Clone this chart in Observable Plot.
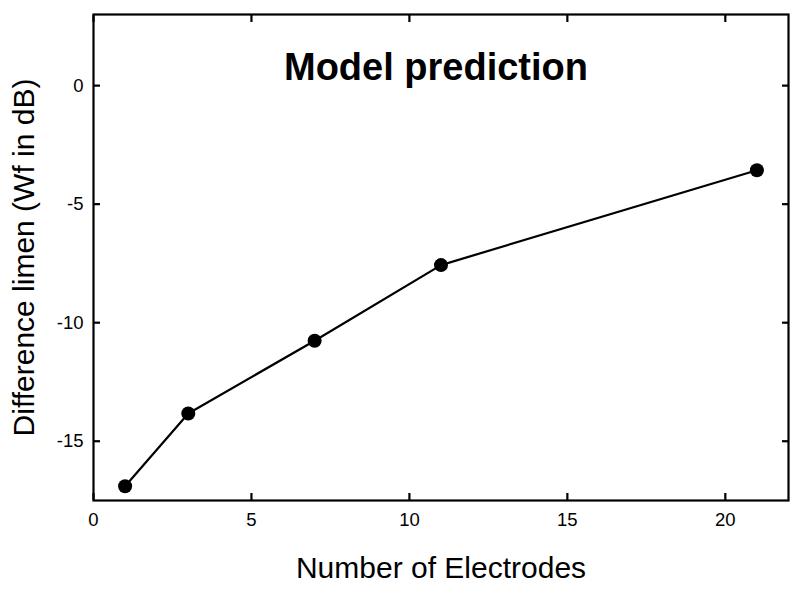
<!DOCTYPE html>
<html>
<head>
<meta charset="utf-8">
<script src="https://cdn.jsdelivr.net/npm/d3@7"></script>
<script src="https://cdn.jsdelivr.net/npm/@observablehq/plot@0.6"></script>
<style>
  html, body { margin: 0; padding: 0; background: #fff; }
</style>
</head>
<body>
<div id="chart"></div>
<script>
const electrodes = [1, 3, 7, 11, 21];
const limen = [-16.9, -13.83, -10.76, -7.57, -3.57];
const xTicks = [0, 5, 10, 15, 20];
const yTicks = [0, -5, -10, -15];
const title = "Model prediction";
const xLabel = "Number of Electrodes";
const yLabel = "Difference limen (Wf in dB)";

const data = electrodes.map((x, i) => ({x, y: limen[i]}));

const chart = Plot.plot({
  width: 800,
  height: 594,
  marginLeft: 93,
  marginRight: 12,
  marginTop: 14,
  marginBottom: 94,
  style: {fontFamily: "'Liberation Sans', Arial, sans-serif", color: "#000", background: "#fff"},
  x: {domain: [0, 22]},
  y: {domain: [-17.5, 3]},
  marks: [
    Plot.frame({stroke: "#000", strokeWidth: 2.2}),
    Plot.axisX({ticks: xTicks, anchor: "bottom", tickSize: 0, tickPadding: 12, fontSize: 18.5, label: null}),
    Plot.axisX({ticks: xTicks, anchor: "bottom", tickSize: 7, dy: -7, text: null, label: null, strokeWidth: 2.2}),
    Plot.axisX({ticks: xTicks, anchor: "top", tickSize: 7, dy: 7, text: null, label: null, strokeWidth: 2.2}),
    Plot.axisY({ticks: yTicks, anchor: "left", tickSize: 0, tickPadding: 10, fontSize: 18.5, label: null, tickFormat: d => d < 0 ? "-" + Math.abs(d) : String(d)}),
    Plot.axisY({ticks: yTicks, anchor: "left", tickSize: 7, dx: 7, text: null, label: null, strokeWidth: 2.2}),
    Plot.axisY({ticks: yTicks, anchor: "right", tickSize: 7, dx: -7, text: null, label: null, strokeWidth: 2.2}),
    Plot.line(data, {x: "x", y: "y", stroke: "#000", strokeWidth: 2.2}),
    Plot.dot(data, {x: "x", y: "y", r: 7, fill: "#000", stroke: "none"}),
    Plot.text([title], {frameAnchor: "top", dx: -5, dy: 65, lineAnchor: "bottom", fontSize: 38, fontWeight: "bold", fill: "#000"}),
    Plot.text([xLabel], {frameAnchor: "bottom", dy: 77, lineAnchor: "bottom", fontSize: 30, fill: "#000"}),
    Plot.text([yLabel], {frameAnchor: "left", dx: -60, rotate: -90, lineAnchor: "bottom", textAnchor: "middle", fontSize: 30, fill: "#000"})
  ]
});
document.getElementById("chart").appendChild(chart);
</script>
</body>
</html>
